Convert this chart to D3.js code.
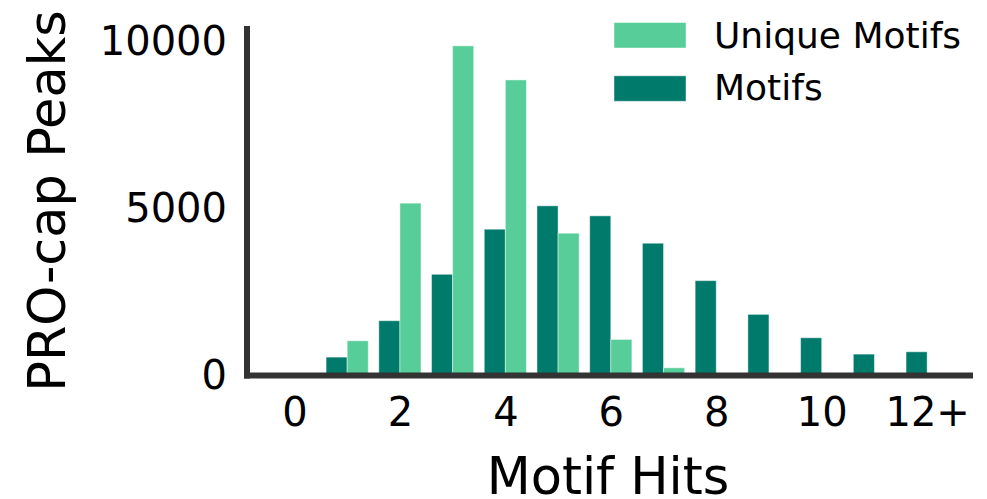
<!DOCTYPE html>
<html>
<head>
<meta charset="utf-8">
<script src="https://cdn.jsdelivr.net/npm/d3@7"></script>
<style>
  body { margin: 0; background: #fff; }
  svg { display: block; font-family: "DejaVu Sans", sans-serif; }
</style>
</head>
<body>
<svg width="987" height="499"></svg>
<script>
var categories = ["0", "1", "2", "3", "4", "5", "6", "7", "8", "9", "10", "11", "12+"];
var motifs       = [0, 550, 1640, 3030, 4380, 5080, 4780, 3960, 2840, 1830, 1130, 640, 710];
var uniqueMotifs = [0, 1040, 5160, 9870, 8850, 4260, 1080, 230, 0, 0, 0, 0, 0];
var xTicks = [0, 2, 4, 6, 8, 10, 12];
var yTicks = [0, 5000, 10000];

var lightColor = "#57cd99";
var darkColor = "#007a6b";
var spineColor = "#333333";

var width = 987;
var height = 499;
var margin = {left: 247, right: 14, top: 26, bottom: 124};

var x = d3.scaleLinear().domain([-0.9, 12.87]).range([margin.left, width - margin.right]);
var y = d3.scaleLinear().domain([0, 10000]).range([375.5, 41.5]);
var barW = x(0.4) - x(0);

var svg = d3.select('svg');

// bars
svg.append('g').selectAll('rect')
  .data(motifs)
  .enter()
  .append('rect')
  .attr('x', function (d, i) { return x(i - 0.4); })
  .attr('y', function (d) { return y(d); })
  .attr('width', barW)
  .attr('height', function (d) { return y(0) - y(d); })
  .attr('fill', darkColor)
  .attr('stroke', 'rgba(255,255,255,0.45)')
  .attr('stroke-width', 1);

svg.append('g').selectAll('rect')
  .data(uniqueMotifs)
  .enter()
  .append('rect')
  .attr('x', function (d, i) { return x(i); })
  .attr('y', function (d) { return y(d); })
  .attr('width', barW)
  .attr('height', function (d) { return y(0) - y(d); })
  .attr('fill', lightColor)
  .attr('stroke', 'rgba(255,255,255,0.45)')
  .attr('stroke-width', 1);

// axes (labels only, spines drawn below)
var axisLeft = d3.axisLeft(y).tickValues(yTicks).tickFormat(d3.format('d'))
  .tickSize(0).tickPadding(20);
var axisBottom = d3.axisBottom(x).tickValues(xTicks)
  .tickFormat(function (d) { return categories[d]; })
  .tickSize(0).tickPadding(21.6);

var gy = svg.append('g')
  .attr('transform', 'translate(' + margin.left + ',0)')
  .call(axisLeft);
var gx = svg.append('g')
  .attr('transform', 'translate(0,' + y(0) + ')')
  .call(axisBottom);

[gx, gy].forEach(function (g) {
  g.select('.domain').remove();
  g.selectAll('text')
    .attr('font-family', '"DejaVu Sans", sans-serif')
    .attr('font-size', 40)
    .attr('fill', '#000');
});

// spines
svg.append('line')
  .attr('x1', margin.left).attr('x2', margin.left)
  .attr('y1', margin.top).attr('y2', y(0) + 3)
  .attr('stroke', spineColor).attr('stroke-width', 6);
svg.append('line')
  .attr('x1', margin.left - 3).attr('x2', width - margin.right)
  .attr('y1', y(0)).attr('y2', y(0))
  .attr('stroke', spineColor).attr('stroke-width', 6);

// text label for the y axis
svg.append('text')
  .attr('transform', 'translate(65,201) rotate(-90)')
  .attr('text-anchor', 'middle')
  .attr('font-size', 51)
  .text('PRO-cap Peaks');

// text label for the x axis
svg.append('text')
  .attr('x', 608)
  .attr('y', 494)
  .attr('text-anchor', 'middle')
  .attr('font-size', 51)
  .text('Motif Hits');

// legend
var legendItems = [
  {label: 'Unique Motifs', color: lightColor},
  {label: 'Motifs', color: darkColor}
];
var legend = svg.append('g');
legend.selectAll('rect')
  .data(legendItems)
  .enter()
  .append('rect')
  .attr('x', 614)
  .attr('y', function (d, i) { return 22.5 + i * 53.3; })
  .attr('width', 72)
  .attr('height', 25.5)
  .attr('fill', function (d) { return d.color; })
  .attr('stroke', 'rgba(255,255,255,0.45)')
  .attr('stroke-width', 1);
legend.selectAll('text')
  .data(legendItems)
  .enter()
  .append('text')
  .attr('x', 714)
  .attr('y', function (d, i) { return 47.5 + i * 52.5; })
  .attr('font-size', 36)
  .text(function (d) { return d.label; });
</script>
</body>
</html>
